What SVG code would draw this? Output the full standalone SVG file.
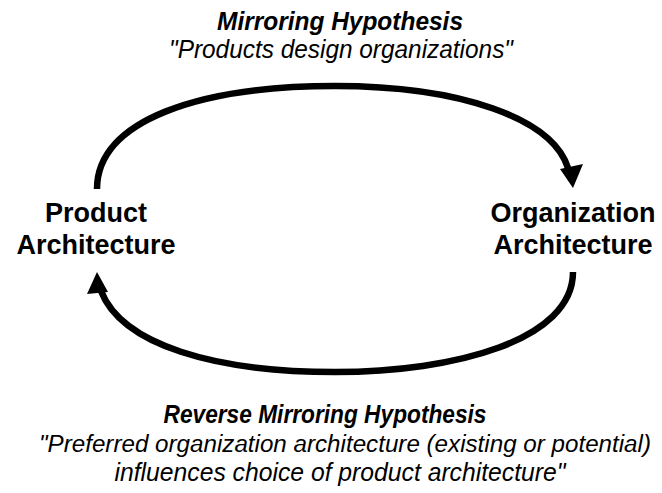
<svg xmlns="http://www.w3.org/2000/svg" width="662" height="493" viewBox="0 0 662 493">
<style>
text { font-family: "Liberation Sans", Arial, sans-serif; fill: #000; }
.node { font-size: 27px; font-weight: bold; text-anchor: middle; }
.head { font-size: 25px; font-weight: bold; font-style: italic; text-anchor: middle; }
.quote { font-size: 25px; font-style: italic; text-anchor: middle; }
.long { font-size: 23px; }
.arc { fill: none; stroke: #000; stroke-width: 6.5; stroke-linecap: butt; }
.tip { fill: #000; stroke: none; }
</style>
<rect width="662" height="493" fill="#fff"/>
<g id="product-architecture">
<text class="node" x="96" y="222">Product</text>
<text class="node" x="96" y="254">Architecture</text>
</g>
<g id="organization-architecture">
<text class="node" x="573" y="222">Organization</text>
<text class="node" x="573" y="254">Architecture</text>
</g>
<g id="connectors">
<g id="mirroring">
<path class="arc" d="M 97 189 C 97 120 200 86 335 86 C 460 86 552 118 568 168"/>
<polygon class="tip" points="573,188 560,169 583,164"/>
<text class="head" x="340" y="30" textLength="246" lengthAdjust="spacingAndGlyphs">Mirroring Hypothesis</text>
<text class="quote" x="341" y="58" textLength="344" lengthAdjust="spacingAndGlyphs">"Products design organizations"</text>
</g>
<g id="reverse-mirroring">
<path class="arc" d="M 573 272 C 573 340 455 372 335 372 C 215 372 122 345 101 291"/>
<polygon class="tip" points="97,272 87,294 108,292"/>
<text class="head" x="325" y="423" textLength="323" lengthAdjust="spacingAndGlyphs">Reverse Mirroring Hypothesis</text>
<text class="quote long" x="345" y="452" textLength="612" lengthAdjust="spacingAndGlyphs">"Preferred organization architecture (existing or potential)</text>
<text class="quote" x="340" y="481" textLength="451" lengthAdjust="spacingAndGlyphs">influences choice of product architecture"</text>
</g>
</g>
</svg>
